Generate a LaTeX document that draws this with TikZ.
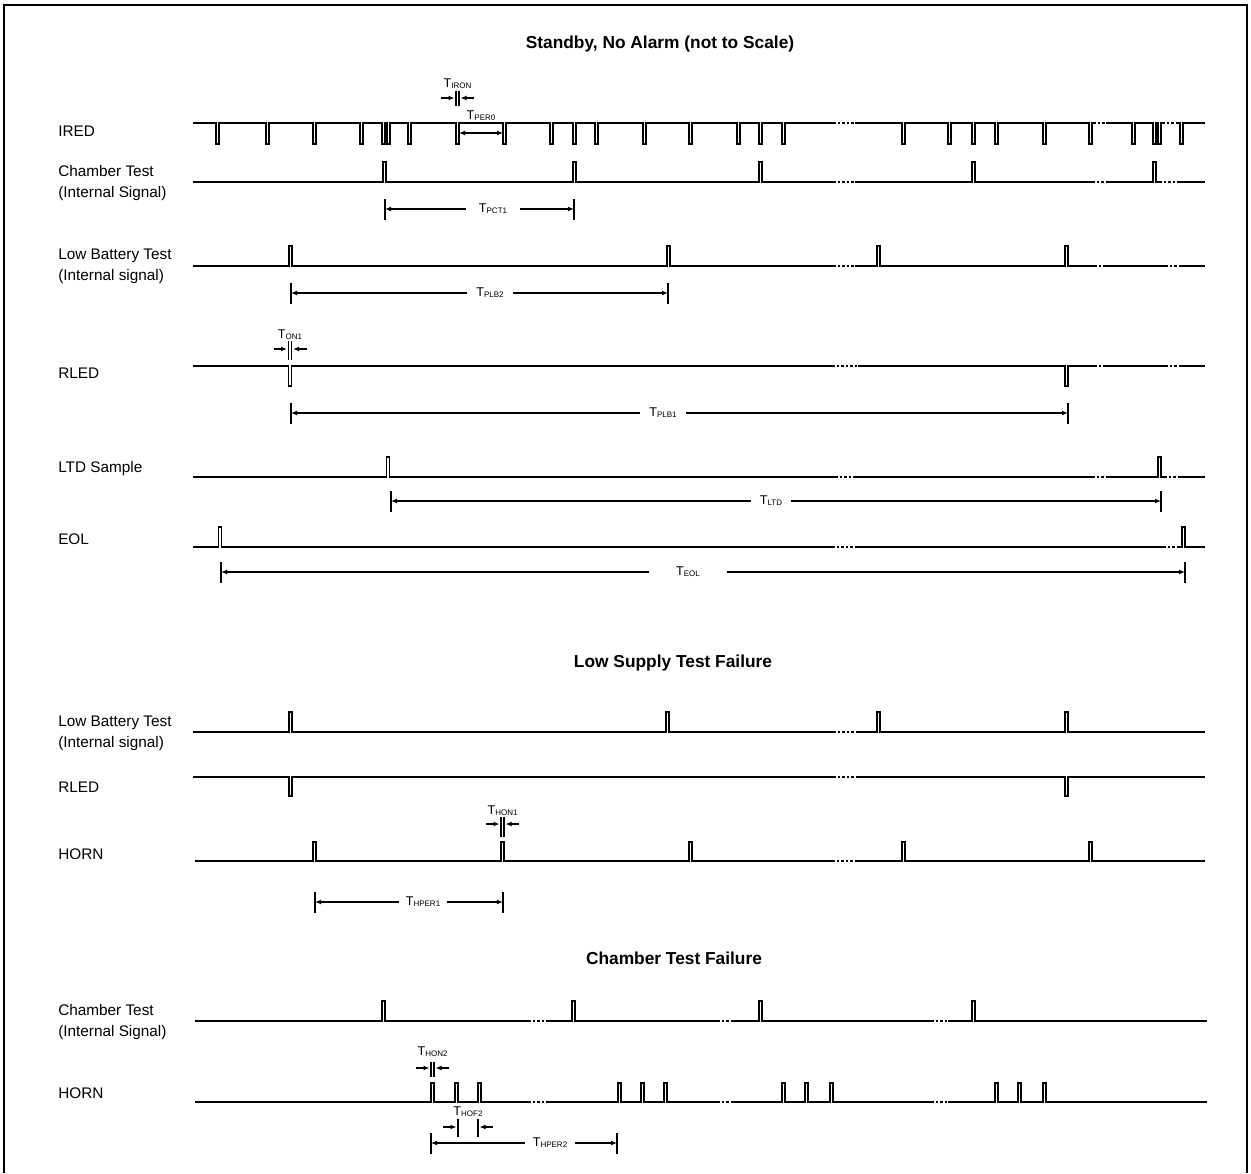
\documentclass[tikz,border=0pt]{standalone}
\usepackage{fontspec}
\setmainfont{Liberation Sans}
\usepackage{tikz}
\usetikzlibrary{arrows.meta,calc}
\tikzset{
  frameLine/.style={line width=1.6pt},
  sigLine/.style={line width=0.9pt, line join=miter},
  sigMid/.style={line width=1.1pt},
  sigThick/.style={line width=1.5pt},
  brkWhite/.style={draw=white, line width=3.2pt},
  brkDots/.style={line width=1.1pt, dash pattern=on 2pt off 1.4pt},
  sigLbl/.style={anchor=west, inner sep=0pt, align=left, font=\fontsize{11.5}{15.75}\selectfont},
  secTitle/.style={font=\fontsize{13}{15}\selectfont\bfseries},
  tNote/.style={inner sep=0.5pt},
  dimTick/.style={line width=0.8pt},
  dimLine/.style={line width=1.1pt, {Latex[length=4.5pt,width=3.6pt]}-{Latex[length=4.5pt,width=3.6pt]}},
  thickDim/.style={line width=1.6pt},
  eolDim/.style={line width=2pt},
  pairTick/.style={line width=1pt},
  pairArrow/.style={line width=1.1pt, -{Latex[length=4.5pt,width=3.6pt]}},
}
\newcommand{\tsub}[1]{{\fontsize{9.5}{9.5}\selectfont T}\raisebox{-0.8pt}{\fontsize{6}{6}\selectfont #1}}
% trace: [style]{level}{pulse level}{x start}{x end}{pulse edges}
\newcommand{\sigTrace}[6][]{%
  \draw[sigLine,#1] (#4,#2) \foreach \p in {#6} { -- (\p,#2) -- (\p,#3) -- (\p+3,#3) -- (\p+3,#2) } -- (#5,#2);
}
\newcommand{\sigBreaks}[2]{%
  \foreach \a/\b in {#2} {
    \draw[brkWhite] (\a,#1) -- (\b,#1);
    \draw[brkDots] (\a,#1) -- (\b,#1);
  }
}
% dimension: [line style]{name}{x1}{x2}{y}{label x}{subscript}{label gap}
\newcommand{\dimSpan}[8][]{%
  \coordinate (#2L) at (#3,#5);
  \coordinate (#2R) at (#4,#5);
  \draw[dimTick] ($(#2L)+(0,-10)$) -- ($(#2L)+(0,11)$);
  \draw[dimTick] ($(#2R)+(0,-10)$) -- ($(#2R)+(0,11)$);
  \draw[dimLine,#1] (#2L) -- (#2R);
  \node[tNote, fill=white, inner xsep=#8] (#2T) at (#6,#5) {\tsub{#7}};
}
% narrow width: {name}{x1}{x2}{y}{tick top}{tick bottom}{subscript}{label y}
\newcommand{\narrowPair}[8]{%
  \coordinate (#1L) at (#2,#4);
  \coordinate (#1R) at (#3,#4);
  \draw[pairTick] (#2,#5) -- (#2,#6);
  \draw[pairTick] (#3,#5) -- (#3,#6);
  \draw[pairArrow] ($(#1L)+(-15,0)$) -- ($(#1L)+(-1.5,0)$);
  \draw[pairArrow] ($(#1R)+(15,0)$) -- ($(#1R)+(1.5,0)$);
  \node[tNote] (#1T) at ({(#2+#3)/2},#8) {\tsub{#7}};
}

\begin{document}
\begin{tikzpicture}[x=0.75pt, y=-0.75pt]
  \useasboundingbox (0,0) rectangle (1251,1173);
  \draw[frameLine] (4,1173) -- (4,5) -- (1247,5) -- (1247,1173);

  \node[secTitle] (titleStandby) at (660,44) {Standby, No Alarm (not to Scale)};
  \node[secTitle] (titleSupply)  at (673,663) {Low Supply Test Failure};
  \node[secTitle] (titleChamber) at (674,958) {Chamber Test Failure};

  % signal names
  \node[sigLbl] (lblIred)  at (58,131)    {IRED};
  \node[sigLbl] (lblCt)    at (58,183.5)  {Chamber Test\\(Internal Signal)};
  \node[sigLbl] (lblLb)    at (58,266.5)  {Low Battery Test\\(Internal signal)};
  \node[sigLbl] (lblRled)  at (58,373)    {RLED};
  \node[sigLbl] (lblLtd)   at (58,469)    {LTD Sample};
  \node[sigLbl] (lblEol)   at (58,539)    {EOL};
  \node[sigLbl] (lblLbB)   at (58,733.5)  {Low Battery Test\\(Internal signal)};
  \node[sigLbl] (lblRledB) at (58,787)    {RLED};
  \node[sigLbl] (lblHornB) at (58,854)    {HORN};
  \node[sigLbl] (lblCtC)   at (58,1022.5) {Chamber Test\\(Internal Signal)};
  \node[sigLbl] (lblHornC) at (58,1093)   {HORN};

  % standby
  \sigTrace[sigMid]{123}{144}{193}{1205}{216,266,313,360,382,387,408,456,503,550,573,595,643,689,737,759,782,902,948,972,995,1043,1089,1132,1153,1158,1180}
  \sigBreaks{123}{833/855,1093/1106,1162/1177}
  \sigTrace{182}{162}{193}{1205}{383,573,759,972,1153}
  \sigBreaks{182}{833/855,1092/1107,1159/1178}
  \sigTrace{266}{246}{193}{1205}{289,667,877,1065}
  \sigBreaks{266}{833/855,1094/1106,1165/1179}
  \sigTrace{366}{386}{193}{1205}{288.5,1065}
  \sigBreaks{366}{832/858,1094/1106,1165/1179}
  \sigTrace{477}{457}{193}{1205}{386.5,1158}
  \sigBreaks{477}{835/856,1092/1108,1164/1179}
  \sigTrace{547}{527}{193}{1205}{218.5,1182}
  \sigBreaks{547}{832/857,1163/1179}

  \narrowPair{iron}{456}{459}{98}{91}{106}{IRON}{84}
  \coordinate (perL) at (459,133);
  \coordinate (perR) at (503,133);
  \draw[dimLine, line width=1.5pt] (perL) -- (perR);
  \node[tNote] (perT) at (481,116) {\tsub{PER0}};
  \dimSpan{pct}{385}{574}{209}{493}{PCT1}{10pt}
  \dimSpan{plbB}{291}{668}{293}{490}{PLB2}{7pt}
  \narrowPair{onA}{288.5}{291.5}{349}{341}{360}{ON1}{335}
  \dimSpan[thickDim]{plbA}{291}{1068}{413}{663}{PLB1}{7pt}
  \dimSpan{ltd}{391}{1161}{501}{771}{LTD}{7pt}
  \dimSpan[eolDim]{eol}{221}{1185}{572}{688}{EOL}{20pt}

  % low supply
  \sigTrace{732}{712}{193}{1205}{289,666,877,1065}
  \sigBreaks{732}{833/856}
  \sigTrace[sigThick]{777}{796}{193}{1205}{288.5,1065}
  \sigBreaks{777}{833/857}
  \sigTrace[sigThick]{861}{842}{195}{1205}{313,501,689,902,1089}
  \sigBreaks{861}{832/857}
  \narrowPair{honA}{501}{504}{824}{817}{837}{HON1}{811}
  \dimSpan{hperA}{315}{503}{902}{423}{HPER1}{5pt}

  % chamber failure
  \sigTrace[sigThick]{1021}{1001}{195}{1207}{382,572,759,972}
  \sigBreaks{1021}{528/547,717/733,931/948}
  \sigTrace[sigMid]{1102}{1083}{195}{1207}{431,455,478,618,641,664,782,805,830,995,1018,1043}
  \sigBreaks{1102}{528/547,717/733,931/948}
  \narrowPair{honB}{431}{434}{1068}{1062}{1077}{HON2}{1052}
  \narrowPair{hof}{458}{478}{1127}{1119}{1137}{HOF2}{1112}
  \dimSpan{hperB}{431}{617}{1143}{550}{HPER2}{6pt}
\end{tikzpicture}
\end{document}
